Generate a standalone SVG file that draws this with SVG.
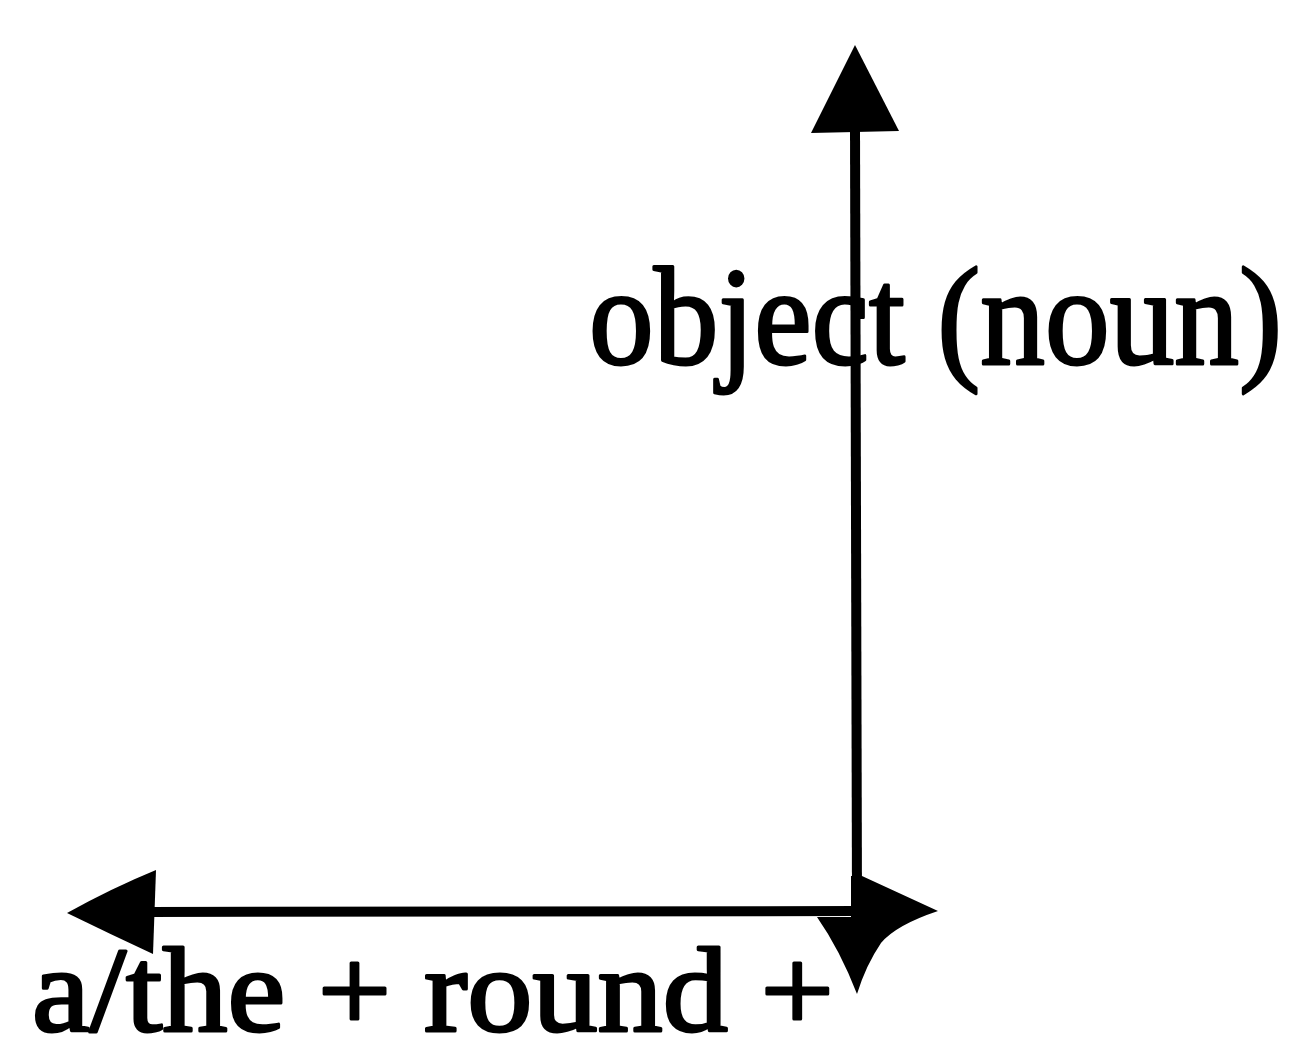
<svg xmlns="http://www.w3.org/2000/svg" width="1297" height="1042" viewBox="0 0 1297 1042">
  <style>
    .axis { stroke: #000; stroke-width: 10; fill: none; stroke-linecap: butt; }
    .head { fill: #000; stroke: none; }
    .label { font-family: "Liberation Serif", "Times New Roman", serif; fill: #000; stroke: #000; stroke-width: 3; stroke-linejoin: round; }
  </style>
  <rect x="0" y="0" width="1297" height="1042" fill="#fff"/>
  <g id="connectors">
    <g id="vertical-axis">
      <line class="axis" x1="855" y1="128" x2="857" y2="905"/>
      <path class="head" d="M855 45 L 811 133 L 899 131 Z"/>
    </g>
    <g id="horizontal-axis">
      <line class="axis" x1="150" y1="912" x2="856" y2="911"/>
      <path class="head" d="M67 913 Q 112 888 156 870 L 153 954 Q 110 934 67 913 Z"/>
    </g>
    <g id="corner-arrows">
      <path class="head" d="M851 876 L 862 876 L 938 911 Q 896 925 881 943 Q 866 965 857 994 Q 840 950 817 917 L 851 917 Z"/>
    </g>
  </g>
  <g id="node-object">
    <text class="label" x="589" y="364" font-size="140" textLength="693" lengthAdjust="spacingAndGlyphs">object (noun)</text>
  </g>
  <g id="node-article">
    <text class="label" x="32" y="1031" font-size="120" textLength="802" lengthAdjust="spacingAndGlyphs">a/the + round +</text>
  </g>
</svg>
